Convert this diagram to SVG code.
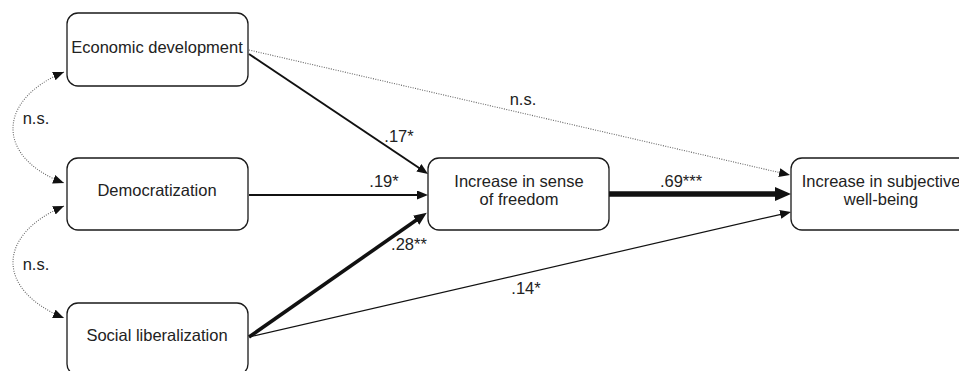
<svg xmlns="http://www.w3.org/2000/svg" width="959" height="371" viewBox="0 0 959 371">
<style>
  .box { fill: #fff; stroke: #1a1a1a; stroke-width: 1.3; }
  text { font-family: "Liberation Sans", Arial, sans-serif; font-size: 16.5px; fill: #222; }
  .lbl { text-anchor: middle; }
  .ln { fill: none; stroke: #111; }
  .dot { fill: none; stroke: #666; stroke-width: 1.1; stroke-dasharray: 1 1.4; }
</style>
<defs>
  <marker id="a" markerUnits="userSpaceOnUse" markerWidth="12" markerHeight="10" refX="3" refY="4.5" orient="auto">
    <path d="M0,0 L11,4.5 L0,9 z" fill="#111"/>
  </marker>
  <marker id="ad" markerUnits="userSpaceOnUse" markerWidth="12" markerHeight="10" refX="11" refY="4.5" orient="auto-start-reverse">
    <path d="M0,0 L11,4.5 L0,9 z" fill="#111"/>
  </marker>
  <marker id="am" markerUnits="userSpaceOnUse" markerWidth="14" markerHeight="12" refX="3" refY="5.5" orient="auto">
    <path d="M0,0 L13,5.5 L0,11 z" fill="#111"/>
  </marker>
  <marker id="al" markerUnits="userSpaceOnUse" markerWidth="18" markerHeight="15" refX="4" refY="7" orient="auto">
    <path d="M0,0 L16,7 L0,14 z" fill="#111"/>
  </marker>
</defs>

<g id="connectors">
  <path class="dot" d="M64,72 C-4,100 -4,158 64,183" marker-start="url(#ad)" marker-end="url(#ad)"/>
  <path class="dot" d="M64,206 C-4,235 -4,290 64,318" marker-start="url(#ad)" marker-end="url(#ad)"/>
  <path class="dot" d="M249,50 L782.2,173.2" marker-end="url(#a)"/>
  <path class="ln" style="stroke-width:2" d="M249,54 L421.4,169.5" marker-end="url(#a)"/>
  <path class="ln" style="stroke-width:2.2" d="M249,195 L420,195" marker-end="url(#a)"/>
  <path class="ln" style="stroke-width:3.6" d="M249,337 L418.6,218.5" marker-end="url(#am)"/>
  <path class="ln" style="stroke-width:1.2" d="M249,337 L783.2,213.8" marker-end="url(#a)"/>
  <path class="ln" style="stroke-width:5.5" d="M609,194 L779,194" marker-end="url(#al)"/>
  <text x="36" y="124" class="lbl">n.s.</text>
  <text x="36" y="270" class="lbl">n.s.</text>
  <text x="523" y="105" class="lbl">n.s.</text>
  <text x="399" y="142" class="lbl">.17*</text>
  <text x="384" y="187" class="lbl">.19*</text>
  <text x="409" y="250" class="lbl">.28**</text>
  <text x="526" y="294" class="lbl">.14*</text>
  <text x="681" y="187" class="lbl">.69***</text>
</g>

<g id="econ">
  <rect class="box" x="67" y="13" width="181" height="73" rx="11"/>
  <text x="157" y="53" class="lbl">Economic development</text>
</g>
<g id="democ">
  <rect class="box" x="67" y="158" width="181" height="72" rx="11"/>
  <text x="157" y="196" class="lbl">Democratization</text>
</g>
<g id="social">
  <rect class="box" x="67" y="303" width="181" height="72" rx="11"/>
  <text x="157" y="341" class="lbl">Social liberalization</text>
</g>
<g id="freedom">
  <rect class="box" x="428" y="158" width="181" height="72" rx="11"/>
  <text x="519" y="187" class="lbl">Increase in sense</text>
  <text x="519" y="205" class="lbl">of freedom</text>
</g>
<g id="wellbeing">
  <rect class="box" x="791" y="158" width="181" height="72" rx="11"/>
  <text x="881" y="187" class="lbl">Increase in subjective</text>
  <text x="881" y="205" class="lbl">well-being</text>
</g>
</svg>
